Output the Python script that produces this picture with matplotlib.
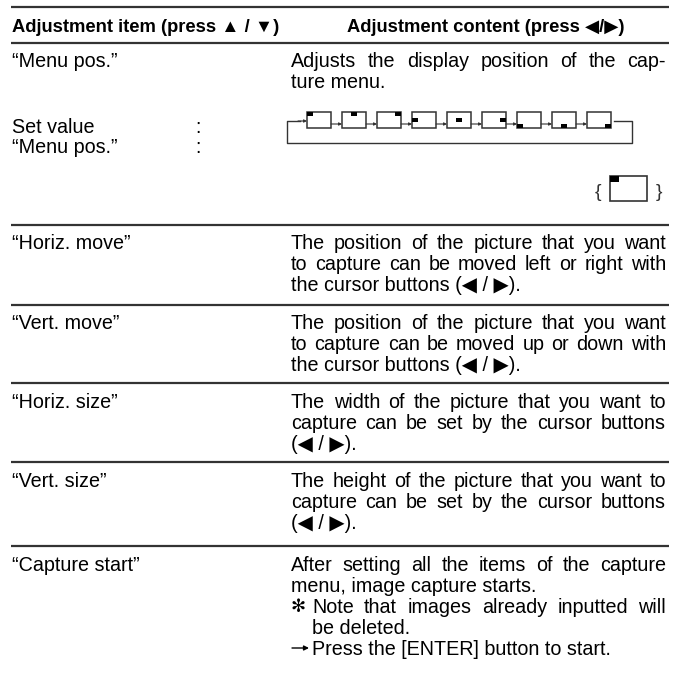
import matplotlib
matplotlib.use('Agg')
import matplotlib.pyplot as plt
from matplotlib.patches import Rectangle

# table content
header = ['Adjustment item (press \u25b2 / \u25bc)', 'Adjustment content (press \u25c0/\u25b6)']
items = ['\u201cMenu pos.\u201d', '\u201cHoriz. move\u201d', '\u201cVert. move\u201d',
         '\u201cHoriz. size\u201d', '\u201cVert. size\u201d', '\u201cCapture start\u201d']
contents = [
    ['Adjusts the display position of the cap-', 'ture menu.'],
    ['The position of the picture that you want', 'to capture can be moved left or right with',
     'the cursor buttons (\u25c0 / \u25b6).'],
    ['The position of the picture that you want', 'to capture can be moved up or down with',
     'the cursor buttons (\u25c0 / \u25b6).'],
    ['The width of the picture that you want to', 'capture can be set by the cursor buttons',
     '(\u25c0 / \u25b6).'],
    ['The height of the picture that you want to', 'capture can be set by the cursor buttons',
     '(\u25c0 / \u25b6).'],
    ['After setting all the items of the capture', 'menu, image capture starts.'],
]
set_value = ['Set value', '\u201cMenu pos.\u201d']
note = ['Note that images already inputted will', 'be deleted.']
press = 'Press the [ENTER] button to start.'
# menu position markers: (horizontal, vertical) 0=left/top, 0.5=middle, 1=right/bottom
menu_pos = [(0, 0), (0.5, 0), (1, 0), (0, 0.5), (0.5, 0.5), (1, 0.5), (0, 1), (0.5, 1), (1, 1)]

# layout (pixels)
rules = [7, 43, 225, 305, 383, 462, 546]
row_top = [60, 242, 322, 401, 480, 564]
lh = 21
xl, xr, x1 = 12, 291, 666

fig = plt.figure(figsize=(6.85, 6.76), dpi=100)
ax = fig.add_axes([0, 0, 1, 1])
ax.set_xlim(0, 685)
ax.set_ylim(676, 0)
ax.axis('off')
r = fig.canvas.get_renderer()

fam = ['Liberation Sans', 'DejaVu Sans']
reg = dict(family=fam, fontsize=14.2, color='#000')
hd = dict(family=fam, fontsize=13.2, fontweight='bold', color='#000')


def line(x0, y, s, just=None, **kw):
    y = y + 0.36 * kw['fontsize'] * 100 / 72
    if just is None:
        ax.text(x0, y, s, va='baseline', ha='left', **kw)
        return
    words = s.split(' ')
    ts = [ax.text(0, y, w, va='baseline', ha='left', **kw) for w in words]
    ws = [t.get_window_extent(renderer=r).width for t in ts]
    gap = (just - x0 - sum(ws)) / (len(words) - 1)
    x = x0
    for t, w in zip(ts, ws):
        t.set_x(x)
        x += w + gap


for y in rules:
    ax.plot([11, 669], [y, y], color='#333', lw=1.6, solid_capstyle='butt')

line(xl, 25, header[0], **hd)
line(347, 25, header[1], **hd)

for i, (it, cont) in enumerate(zip(items, contents)):
    y0 = row_top[i]
    line(xl, y0, it, **reg)
    for k, s in enumerate(cont):
        last = k == len(cont) - 1
        line(xr, y0 + k * lh, s, just=None if last else x1, **reg)

# set value lines
for k, s in enumerate(set_value):
    line(xl, 126 + k * 20, s, **reg)
    line(195, 126 + k * 20, ':', **reg)

# capture start notes
yn = row_top[5] + 2 * lh
ax.text(xr, yn + 6, '\u273b', va='baseline', ha='left', family=['DejaVu Sans'], fontsize=13, color='#000')
line(312, yn, note[0], just=x1, **reg)
line(312, yn + lh, note[1], **reg)
ax.annotate('', xy=(309, yn + 2 * lh), xytext=(292, yn + 2 * lh),
            arrowprops=dict(arrowstyle='-|>', lw=1, color='#000', mutation_scale=7, shrinkA=0, shrinkB=0))
line(312, yn + 2 * lh, press, **reg)

# menu position loop
bx0, pitch, bw, bh, by = 307, 35, 24, 16, 112
for n, (h, v) in enumerate(menu_pos):
    x = bx0 + n * pitch
    ax.add_patch(Rectangle((x, by), bw, bh, fill=False, ec='#333', lw=1.1))
    mw, mh = 6, 4
    ax.add_patch(Rectangle((x + h * (bw - mw), by + v * (bh - mh)), mw, mh, fc='#000', ec='none'))
    if n < len(menu_pos) - 1:
        ax.annotate('', xy=(x + pitch, by + bh - 4), xytext=(x + bw, by + bh - 4),
                    arrowprops=dict(arrowstyle='-|>', lw=0.8, color='#333', mutation_scale=4,
                                    shrinkA=0, shrinkB=0))
xe = bx0 + 8 * pitch + bw
ax.plot([xe + 3, 632, 632, 287, 287, 300], [121, 121, 143, 143, 121, 121], color='#333', lw=1)
ax.annotate('', xy=(bx0, 121), xytext=(298, 121),
            arrowprops=dict(arrowstyle='-|>', lw=0.8, color='#333', mutation_scale=4, shrinkA=0, shrinkB=0))

# current value icon
ax.add_patch(Rectangle((610, 176), 37, 25, fill=False, ec='#333', lw=1.2))
ax.add_patch(Rectangle((610, 176), 9, 6, fc='#000', ec='none'))
ax.text(598, 197, '{', ha='center', va='baseline', fontsize=14, family=['Liberation Sans'], color='#333')
ax.text(659, 197, '}', ha='center', va='baseline', fontsize=14, family=['Liberation Sans'], color='#333')

fig.savefig('out.png', dpi=100)
